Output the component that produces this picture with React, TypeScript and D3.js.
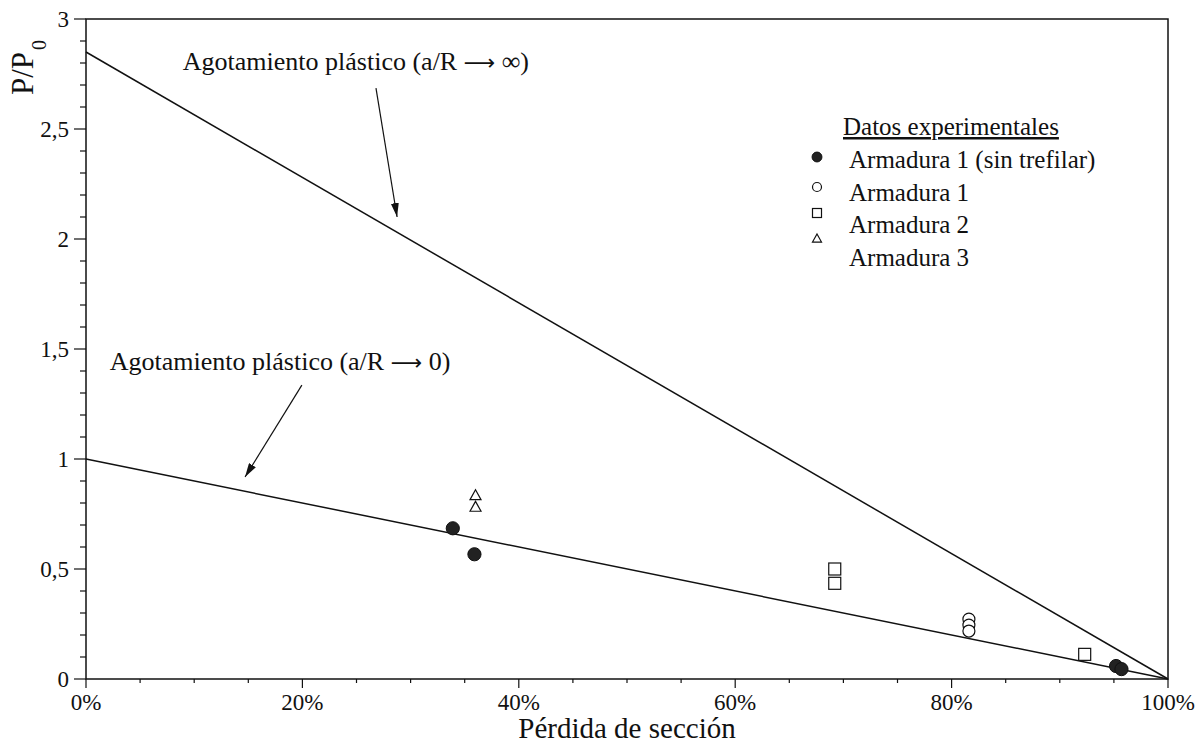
import React, { useEffect, useRef } from 'react';
import * as d3 from 'd3';

// Experimental points: x = loss of section (%), y = P/P0
const armadura1SinTrefilar = [
  { x: 33.9, y: 0.685 },
  { x: 35.9, y: 0.567 },
  { x: 95.2, y: 0.059 },
  { x: 95.7, y: 0.045 }
];
const armadura1 = [
  { x: 81.6, y: 0.272 },
  { x: 81.6, y: 0.245 },
  { x: 81.6, y: 0.218 }
];
const armadura2 = [
  { x: 69.2, y: 0.5 },
  { x: 69.2, y: 0.435 },
  { x: 92.3, y: 0.112 }
];
const armadura3 = [
  { x: 36.0, y: 0.838 },
  { x: 36.0, y: 0.785 }
];

// Theoretical lines
const lineInfinito = [
  { x: 0, y: 2.85 },
  { x: 100, y: 0 }
];
const lineCero = [
  { x: 0, y: 1 },
  { x: 100, y: 0 }
];

const xTicks = [0, 20, 40, 60, 80, 100];
const yTicks = [0, 0.5, 1, 1.5, 2, 2.5, 3];
const yTickLabels = ['0', '0,5', '1', '1,5', '2', '2,5', '3'];

const legendItems = [
  { label: 'Armadura 1 (sin trefilar)', symbol: 'filled' },
  { label: 'Armadura 1', symbol: 'circle' },
  { label: 'Armadura 2', symbol: 'square' },
  { label: 'Armadura 3', symbol: 'triangle' }
];

const FONT = '"Liberation Serif", "Times New Roman", serif';
const INK = '#111';

const App: React.FC = () => {
  const svgRef = useRef<SVGSVGElement>(null);
  const width = 1197;
  const height = 745;

  useEffect(() => {
    if (!svgRef.current) return;
    const svg = d3.select(svgRef.current);
    svg.selectAll('*').remove();

    const margin = { top: 19, right: 29, bottom: 66, left: 86 };
    const innerWidth = width - margin.left - margin.right;
    const innerHeight = height - margin.top - margin.bottom;

    const g = svg.append('g').attr('transform', `translate(${margin.left},${margin.top})`);

    const x = d3.scaleLinear().domain([0, 100]).range([0, innerWidth]);
    const y = d3.scaleLinear().domain([0, 3]).range([innerHeight, 0]);

    // minor ticks
    const xMinor = d3.range(0, 101, 5).filter(v => v % 20 !== 0);
    const yMinor = d3.range(0, 31).map(v => v / 10).filter(v => Math.round(v * 10) % 5 !== 0);

    g.selectAll('.xminor')
      .data(xMinor)
      .enter()
      .append('line')
      .attr('x1', d => x(d))
      .attr('x2', d => x(d))
      .attr('y1', innerHeight)
      .attr('y2', innerHeight + 4)
      .attr('stroke', INK)
      .attr('stroke-width', 1.2);

    g.selectAll('.xmajor')
      .data(xTicks)
      .enter()
      .append('line')
      .attr('x1', d => x(d))
      .attr('x2', d => x(d))
      .attr('y1', innerHeight)
      .attr('y2', innerHeight + 9)
      .attr('stroke', INK)
      .attr('stroke-width', 1.2);

    g.selectAll('.yminor')
      .data(yMinor)
      .enter()
      .append('line')
      .attr('x1', -6)
      .attr('x2', 0)
      .attr('y1', d => y(d))
      .attr('y2', d => y(d))
      .attr('stroke', INK)
      .attr('stroke-width', 1.2);

    g.selectAll('.ymajor')
      .data(yTicks)
      .enter()
      .append('line')
      .attr('x1', -12)
      .attr('x2', 0)
      .attr('y1', d => y(d))
      .attr('y2', d => y(d))
      .attr('stroke', INK)
      .attr('stroke-width', 1.2);

    // frame
    g.append('rect')
      .attr('width', innerWidth)
      .attr('height', innerHeight)
      .attr('fill', 'none')
      .attr('stroke', INK)
      .attr('stroke-width', 1.5);

    // tick labels
    g.selectAll('.xlabel')
      .data(xTicks)
      .enter()
      .append('text')
      .attr('x', d => x(d))
      .attr('y', innerHeight + 31)
      .attr('text-anchor', 'middle')
      .style('font-family', FONT)
      .style('font-size', '23px')
      .attr('fill', INK)
      .text(d => `${d}%`);

    g.selectAll('.ylabel')
      .data(yTicks)
      .enter()
      .append('text')
      .attr('x', -17)
      .attr('y', d => y(d))
      .attr('dy', '0.35em')
      .attr('text-anchor', 'end')
      .style('font-family', FONT)
      .style('font-size', '23px')
      .attr('fill', INK)
      .text((d, i) => yTickLabels[i]);

    // axis titles
    svg.append('text')
      .attr('x', margin.left + innerWidth / 2)
      .attr('y', 738)
      .attr('text-anchor', 'middle')
      .style('font-family', FONT)
      .style('font-size', '29px')
      .attr('fill', INK)
      .text('Pérdida de sección');

    const yTitle = svg.append('text')
      .attr('transform', 'translate(33,95) rotate(-90)')
      .style('font-family', FONT)
      .style('font-size', '31px')
      .attr('fill', INK);
    yTitle.append('tspan').text('P/P');
    yTitle.append('tspan').attr('dy', 13).attr('dx', 2).style('font-size', '20px').text('0');

    // theoretical lines
    const line = d3.line<{ x: number; y: number }>()
      .x(d => x(d.x))
      .y(d => y(d.y));

    [lineInfinito, lineCero].forEach(data => {
      g.append('path')
        .datum(data)
        .attr('fill', 'none')
        .attr('stroke', INK)
        .attr('stroke-width', 1.5)
        .attr('d', line);
    });

    // annotations
    const defs = svg.append('defs');
    defs.append('marker')
      .attr('id', 'arrowhead')
      .attr('viewBox', '0 0 14 8')
      .attr('refX', 14)
      .attr('refY', 4)
      .attr('markerWidth', 14)
      .attr('markerHeight', 8)
      .attr('markerUnits', 'userSpaceOnUse')
      .attr('orient', 'auto')
      .append('path')
      .attr('d', 'M0,0 L14,4 L0,8 Z')
      .attr('fill', INK);

    const annotations = [
      { text: 'Agotamiento plástico (a/R', sym: '∞', lx: 8.95, ly: 2.77, from: [26.8, 2.686], to: [28.75, 2.1] },
      { text: 'Agotamiento plástico (a/R', sym: '0', lx: 2.2, ly: 1.405, from: [19.95, 1.336], to: [14.7, 0.918] }
    ];

    annotations.forEach(a => {
      const t = g.append('text')
        .attr('x', x(a.lx))
        .attr('y', y(a.ly))
        .style('font-family', FONT)
        .style('font-size', '26px')
        .attr('fill', INK);
      t.append('tspan').text(a.text + ' ');
      t.append('tspan').style('font-family', '"DejaVu Sans", sans-serif').style('font-size', '22px').text('⟶');
      t.append('tspan').text(' ' + a.sym + ')');

      g.append('line')
        .attr('x1', x(a.from[0]))
        .attr('y1', y(a.from[1]))
        .attr('x2', x(a.to[0]))
        .attr('y2', y(a.to[1]))
        .attr('stroke', INK)
        .attr('stroke-width', 1.2)
        .attr('marker-end', 'url(#arrowhead)');
    });

    // markers
    const drawSymbol = (sel: d3.Selection<SVGGElement, unknown, null, undefined>, kind: string, cx: number, cy: number, s: number) => {
      if (kind === 'filled') {
        sel.append('circle').attr('cx', cx).attr('cy', cy).attr('r', s * 0.55)
          .attr('fill', '#222').attr('stroke', INK).attr('stroke-width', 1);
      } else if (kind === 'circle') {
        sel.append('circle').attr('cx', cx).attr('cy', cy).attr('r', s * 0.5)
          .attr('fill', 'white').attr('stroke', INK).attr('stroke-width', 1.2);
      } else if (kind === 'square') {
        sel.append('rect').attr('x', cx - s / 2).attr('y', cy - s / 2).attr('width', s).attr('height', s)
          .attr('fill', 'white').attr('stroke', INK).attr('stroke-width', 1.2);
      } else {
        const h = s * 0.9;
        sel.append('path')
          .attr('d', `M${cx},${cy - h / 2} L${cx + s / 2},${cy + h / 2} L${cx - s / 2},${cy + h / 2} Z`)
          .attr('fill', 'white').attr('stroke', INK).attr('stroke-width', 1.2);
      }
    };

    const pts = g.append('g');
    const seriesList: Array<[string, { x: number; y: number }[]]> = [
      ['filled', armadura1SinTrefilar],
      ['circle', armadura1],
      ['square', armadura2],
      ['triangle', armadura3]
    ];
    seriesList.forEach(([kind, data]) => {
      data.forEach(d => drawSymbol(pts, kind, x(d.x), y(d.y), kind === 'triangle' ? 11 : 12));
    });

    // legend
    const legend = svg.append('g');
    legend.append('text')
      .attr('x', 843)
      .attr('y', 135)
      .style('font-family', FONT)
      .style('font-size', '25px')
      .style('text-decoration', 'underline')
      .attr('fill', INK)
      .text('Datos experimentales');

    const markerY = [157, 187, 213, 238];
    legendItems.forEach((item, i) => {
      legend.append('text')
        .attr('x', 849)
        .attr('y', 168 + i * 32.5)
        .style('font-family', FONT)
        .style('font-size', '25px')
        .attr('fill', INK)
        .text(item.label);
      drawSymbol(legend, item.symbol, 817, markerY[i], 9);
    });
  }, []);

  return (
    <svg
      ref={svgRef}
      width={width}
      height={height}
      style={{ position: 'absolute', left: 0, top: 0, background: 'white' }}
    />
  );
};

export default App;
